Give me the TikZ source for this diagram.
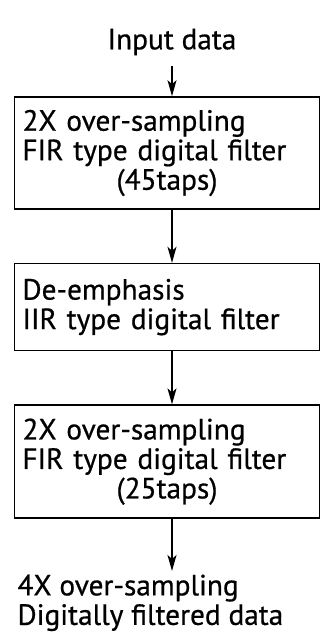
\documentclass[tikz,border=0pt]{standalone}
\usepackage{fontspec}
\setmainfont{PT Sans}[FakeBold=0.6]
\usetikzlibrary{positioning,arrows.meta}

\begin{document}
\begin{tikzpicture}[node distance={53pt},
    every node/.style = {font=\fontsize{29.3}{29.5}\selectfont},
    filt/.style = {draw, line width=1.6pt, inner xsep=8pt, text width=289pt, align=left},
    flow/.style = {line width=1.5pt, -{Stealth[length=16pt, width=9pt, inset=4pt]}}]
    \useasboundingbox (0,0) rectangle (321pt,-634pt);

    \node (in) at (172pt,-42pt) {Input data};
    \node[filt, minimum height=112pt] (f1) at (167pt,-153pt)
        {2X over-sampling\\FIR type digital filter\\\makebox[\linewidth]{(45taps)}};
    \node[filt, minimum height=87pt] (f2) [below=of f1]
        {De-emphasis\\IIR type digital filter};
    \node[filt, minimum height=113pt] (f3) [below=of f2]
        {2X over-sampling\\FIR type digital filter\\\makebox[\linewidth]{(25taps)}};
    \node[align=left, anchor=north west] (out) at (14pt,-571pt)
        {4X over-sampling\\Digitally filtered data};

    \draw[flow] (in.south |- 0,-66pt) -- (in |- f1.north);
    \draw[flow] (f1.south -| in) -- (f2.north -| in);
    \draw[flow] (f2.south -| in) -- (f3.north -| in);
    \draw[flow] (f3.south -| in) -- (in |- out.north);
\end{tikzpicture}
\end{document}
